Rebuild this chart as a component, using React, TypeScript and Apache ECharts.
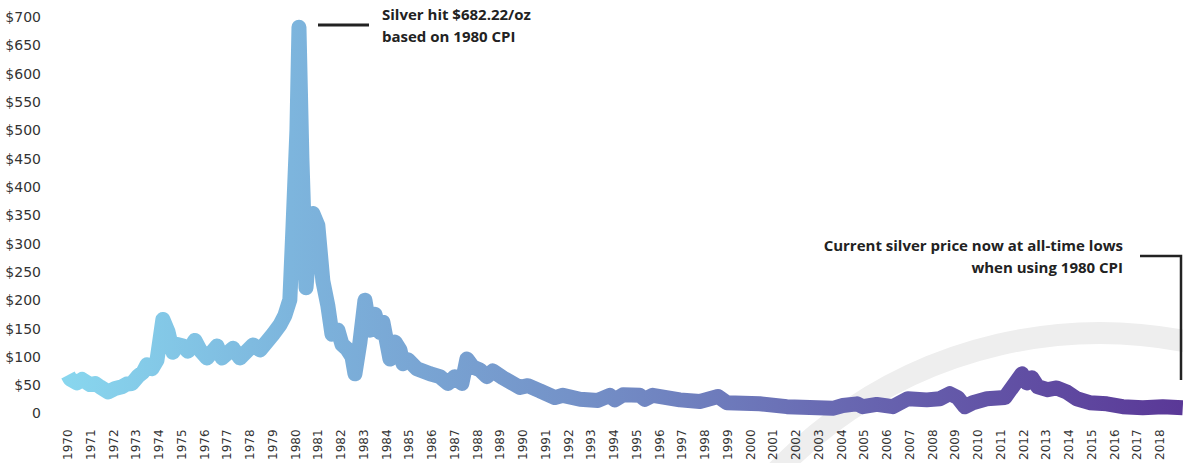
import React, { useEffect, useRef } from "react";
import * as echarts from "echarts";

// Silver price adjusted to 1980 CPI (USD/oz)
const years: number[] = [
  1970.0, 1970.09, 1970.4, 1970.62, 1970.97, 1971.19, 1971.41, 1971.76, 1972.07, 1972.37,
  1972.59, 1972.81, 1973.08, 1973.3, 1973.47, 1973.69, 1973.91, 1974.17, 1974.39, 1974.61,
  1974.79, 1975.05, 1975.27, 1975.58, 1975.8, 1976.11, 1976.55, 1976.77, 1977.25, 1977.56,
  1978.13, 1978.44, 1979.01, 1979.31, 1979.53, 1979.75, 1979.89, 1980.06, 1980.15, 1980.28,
  1980.46, 1980.63, 1980.76, 1980.98, 1981.2, 1981.42, 1981.6, 1981.86, 1982.04, 1982.26,
  1982.48, 1982.61, 1982.83, 1983.05, 1983.27, 1983.49, 1983.71, 1983.84, 1984.15, 1984.37,
  1984.59, 1984.72, 1984.94, 1985.33, 1985.91, 1986.34, 1986.7, 1987.0, 1987.31, 1987.53,
  1987.79, 1988.1, 1988.41, 1988.67, 1989.11, 1989.86, 1990.21, 1990.74, 1991.4, 1991.75,
  1992.5, 1993.29, 1993.81, 1994.03, 1994.39, 1995.13, 1995.35, 1995.7, 1996.89, 1997.77,
  1998.56, 1998.95, 2000.4, 2001.59, 2003.61, 2004.05, 2004.67, 2004.93, 2005.54, 2006.25,
  2006.91, 2007.74, 2008.31, 2008.75, 2009.1, 2009.41, 2009.76, 2010.38, 2011.17, 2011.92,
  2012.14, 2012.36, 2012.62, 2013.06, 2013.45, 2013.89, 2014.33, 2014.9, 2015.65, 2016.35,
  2017.23, 2018.11, 2018.99,
];
const prices: number[] = [
  68, 61, 54, 60, 51, 53, 47, 38, 44, 47,
  52, 53, 66, 73, 86, 79, 94, 166, 145, 108,
  122, 119, 110, 129, 112, 98, 119, 98, 115, 98,
  121, 112, 140, 156, 173, 201, 332, 500, 682, 450,
  222, 305, 353, 332, 234, 190, 140, 147, 122, 114,
  100, 70, 126, 200, 147, 175, 143, 161, 96, 126,
  112, 88, 95, 79, 70, 65, 53, 65, 53, 96,
  82, 77, 65, 75, 63, 46, 49, 40, 28, 32,
  25, 23, 32, 24, 33, 32, 25, 32, 24, 21,
  30, 19, 17, 12, 9, 14, 17, 12, 16, 12,
  26, 24, 26, 35, 28, 12, 19, 26, 28, 70,
  54, 63, 47, 42, 45, 38, 26, 19, 17, 12,
  10, 12, 10,
];
const yTicks: number[] = [0, 50, 100, 150, 200, 250, 300, 350, 400, 450, 500, 550, 600, 650, 700];
const peakNote: string[] = ["Silver hit $682.22/oz", "based on 1980 CPI"];
const lowNote: string[] = ["Current silver price now at all-time lows", "when using 1980 CPI"];

export default function App() {
  const ref = useRef<HTMLDivElement>(null);
  useEffect(() => {
    if (!ref.current) return;
    const chart = echarts.init(ref.current, null, { renderer: "svg" });
    const data = years.map((y, i) => [y, prices[i]]);
    const axisFont = "'DejaVu Sans', 'Open Sans', sans-serif";
    const noteFont = "'Open Sans', 'Noto Sans', sans-serif";
    chart.setOption({
      animation: false,
      backgroundColor: "#ffffff",
      grid: { left: 68, right: 0, top: 17, bottom: 46, containLabel: false },
      xAxis: {
        type: "value",
        min: 1970,
        max: 2019,
        interval: 1,
        axisLine: { show: false },
        axisTick: { show: false },
        splitLine: { show: false },
        axisLabel: {
          rotate: 90,
          margin: 16,
          fontSize: 12,
          color: "#333",
          fontFamily: axisFont,
          showMaxLabel: false,
          formatter: (v: number) => (v >= 2019 ? "" : String(v)),
        },
      },
      yAxis: {
        type: "value",
        min: yTicks[0],
        max: yTicks[yTicks.length - 1],
        interval: 50,
        axisLine: { show: false },
        axisTick: { show: false },
        splitLine: { show: false },
        axisLabel: {
          margin: 27,
          fontSize: 14,
          color: "#333",
          fontFamily: axisFont,
          formatter: (v: number) => (v === 0 ? "0" : "$" + v),
        },
      },
      graphic: [
        {
          type: "arc",
          z: -10,
          silent: true,
          shape: { cx: 1100, cy: 780, r: 447, startAngle: -2.6, endAngle: -1.0, clockwise: true },
          style: { stroke: "#eeeeee", lineWidth: 22, fill: null },
        },
        {
          type: "line",
          shape: { x1: 318, y1: 25, x2: 369, y2: 25 },
          style: { stroke: "#222", lineWidth: 3 },
        },
        {
          type: "text",
          x: 382,
          y: 14,
          style: {
            text: peakNote[0],
            font: "bold 15px " + noteFont,
            fill: "#222",
            verticalAlign: "middle",
          },
        },
        {
          type: "text",
          x: 382,
          y: 36,
          style: {
            text: peakNote[1],
            font: "bold 15px " + noteFont,
            fill: "#222",
            verticalAlign: "middle",
          },
        },
        {
          type: "text",
          x: 1123,
          y: 245,
          style: {
            text: lowNote[0],
            font: "bold 15px " + noteFont,
            fill: "#222",
            align: "right",
            verticalAlign: "middle",
          },
        },
        {
          type: "text",
          x: 1123,
          y: 267,
          style: {
            text: lowNote[1],
            font: "bold 15px " + noteFont,
            fill: "#222",
            align: "right",
            verticalAlign: "middle",
          },
        },
        {
          type: "polyline",
          shape: { points: [[1140, 256], [1181, 256], [1181, 380]] },
          style: { stroke: "#222", lineWidth: 2.5, fill: null },
        },
      ],
      series: [
        {
          type: "line",
          data,
          showSymbol: false,
          symbol: "none",
          z: 5,
          lineStyle: {
            width: 15,
            join: "round",
            cap: "butt",
            color: new echarts.graphic.LinearGradient(0, 0, 1, 0, [
              { offset: 0, color: "#88d6ee" },
              { offset: 0.2, color: "#7db5dd" },
              { offset: 0.45, color: "#7492c8" },
              { offset: 0.7, color: "#6867b1" },
              { offset: 1, color: "#5a3897" },
            ]),
          },
        },
      ],
    });
    return () => chart.dispose();
  }, []);
  return (
    <div
      ref={ref}
      style={{ position: "fixed", left: 0, top: 0, width: 1183, height: 463, background: "#fff" }}
    />
  );
}
